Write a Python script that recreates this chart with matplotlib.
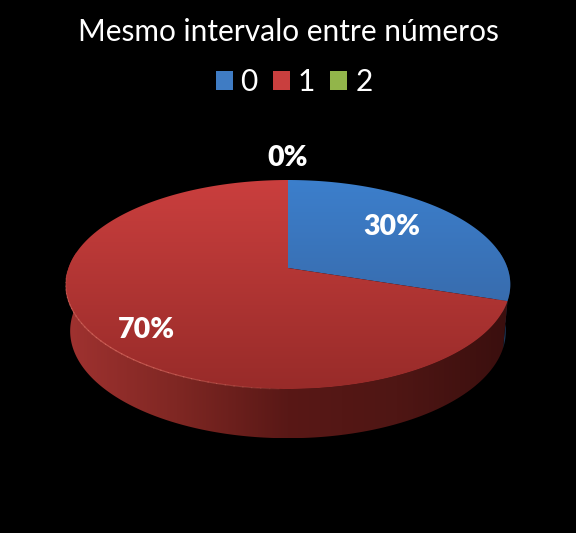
import numpy as np
import matplotlib
matplotlib.use('Agg')
import matplotlib.pyplot as plt
from matplotlib.colors import LinearSegmentedColormap
from matplotlib.patches import Patch, Polygon

categories = ['0', '1', '2']
values = [30, 70, 0]
pct_labels = ['30%', '70%', '0%']
title = 'Mesmo intervalo entre números'

top_colors = [['#3c7fcc', '#355f99'], ['#ca3f3e', '#982b29'], ['#9bbb59', '#7a9a40']]
# left to right along the visible rim
wall_colors = [['#26456b', '#182c46'],
               ['#a03230', '#7f2723', '#591816', '#4f1614', '#3a0f0e']]
legend_colors = ['#3f7cc4', '#c93f3e', '#92b54a']
label_pos = [(392, 227), (146, 330), (288, 158)]

plt.rcParams['font.family'] = ['Lato', 'DejaVu Sans']

# pie geometry in pixels, perspective squeezes the far half
cx, cy = 288, 268
rx, ry = 219.5, 101.9
k = 0.158
depth = 46


def project(ang, r=1.0):
    # ang = clockwise from 12 o'clock
    u = r * np.sin(ang)
    v = -r * np.cos(ang)
    w = 1 - k * v
    return cx + rx * u / w, cy + ry * v / w


def project_low(ang):
    x, y = project(ang)
    v = -np.cos(ang)
    return cx + (x - cx) * 0.98, y + depth * (1 + 0.07 * v)


fig = plt.figure(figsize=(5.76, 5.33), dpi=100, facecolor='black')
ax = fig.add_axes([0, 0, 1, 1])
ax.set_xlim(0, 576)
ax.set_ylim(533, 0)
ax.axis('off')

fracs = np.array(values) / sum(values)
edges = np.concatenate([[0], np.cumsum(fracs)]) * 2 * np.pi

# outer side first, one ramp across the whole pie width
full_x, full_y = project(np.linspace(0, 2 * np.pi, 400))
ramp = np.linspace(0, 1, 256)
for i, val in enumerate(values):
    if val == 0:
        continue
    a = np.linspace(edges[i], edges[i + 1], 300)
    a = a[np.cos(a) <= 0.17]  # only the near half of the rim shows
    if len(a) < 2:
        continue
    xt, yt = project(a)
    xb, yb = project_low(a)
    pts = np.column_stack([np.concatenate([xt, xb[::-1]]),
                           np.concatenate([yt, yb[::-1]])])
    cmap = LinearSegmentedColormap.from_list('w', wall_colors[i])
    x0, y0 = pts.min(axis=0)
    x1, y1 = pts.max(axis=0)
    im = ax.imshow(ramp.reshape(1, -1), cmap=cmap, aspect='auto', zorder=2,
                   extent=[x0, x1, y1, y0], interpolation='bilinear')
    im.set_clip_path(Polygon(pts, closed=True, transform=ax.transData))

# top faces
for i, val in enumerate(values):
    if val == 0:
        continue
    a = np.linspace(edges[i], edges[i + 1], 300)
    x, y = project(a)
    pts = np.column_stack([np.concatenate([[cx], x]), np.concatenate([[cy], y])])
    cmap = LinearSegmentedColormap.from_list('t', top_colors[i])
    im = ax.imshow(ramp.reshape(-1, 1), cmap=cmap, aspect='auto', zorder=3,
                   extent=[full_x.min(), full_x.max(), full_y.max(), full_y.min()],
                   interpolation='bilinear')
    im.set_clip_path(Polygon(pts, closed=True, transform=ax.transData))

# light rim on the front left, fades out towards the bottom
rim = np.radians(np.linspace(182, 268, 44))
rim_x, rim_y = project(rim)
for j in range(len(rim) - 1):
    alpha = 0.75 * np.sin(np.pi * (j + 1) / len(rim)) ** 0.6
    ax.plot(rim_x[j:j + 2], rim_y[j:j + 2], color='#dc6a60', lw=0.8, alpha=alpha, zorder=4)

ax.set_xlim(0, 576)
ax.set_ylim(533, 0)

for txt, (x, y) in zip(pct_labels, label_pos):
    ax.text(x, y, txt, color='white', fontsize=20.5, fontweight='heavy',
            ha='center', va='center', zorder=5)

ax.text(288, 32, title, color='white', fontsize=21.5, ha='center', va='center')

handles = [Patch(facecolor=c, edgecolor='none', label=n)
           for c, n in zip(legend_colors, categories)]
leg = ax.legend(handles=handles, ncol=3, frameon=False, loc='center',
                bbox_to_anchor=(294 / 576, 1 - 82 / 533), fontsize=21.5,
                labelcolor='white', handlelength=0.57, handleheight=0.57,
                handletextpad=0.27, columnspacing=0.5, borderpad=0)

fig.savefig('out.png', dpi=100, facecolor='black')
